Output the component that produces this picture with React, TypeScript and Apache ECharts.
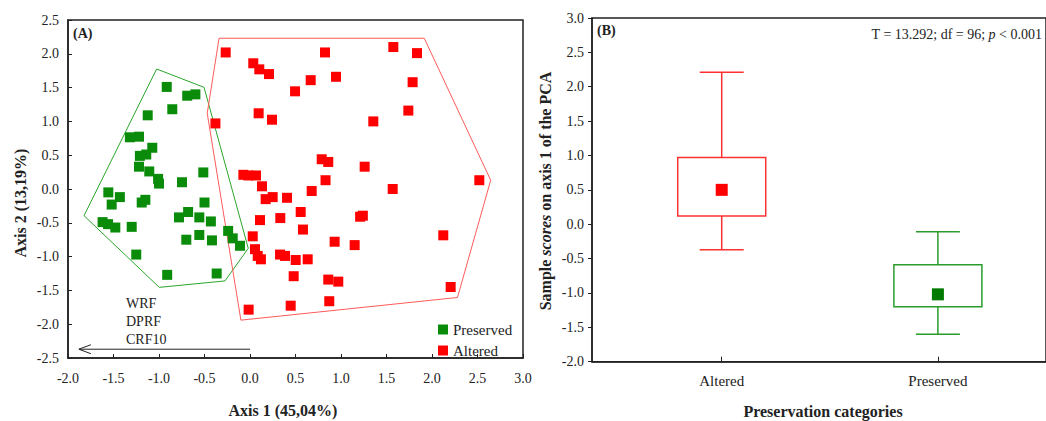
import React, { useEffect, useRef } from "react";
import * as echarts from "echarts";

// ---------- Panel A data (PCA scores) ----------
const preservedPoints: [number, number][] = [
  [-0.915, 1.51], [-0.69, 1.38], [-0.6, 1.4], [-0.854, 1.18], [-1.124, 1.09],
  [-1.32, 0.765], [-1.22, 0.774], [-1.074, 0.61], [-1.21, 0.49], [-1.14, 0.51],
  [-1.22, 0.33], [-1.107, 0.26], [-0.513, 0.245], [-1.01, 0.15], [-1.0, 0.08],
  [-0.747, 0.1], [-1.557, -0.05], [-1.43, -0.12], [-1.52, -0.23], [-1.19, -0.2],
  [-1.15, -0.16], [-0.5, -0.2], [-1.62, -0.49], [-1.56, -0.52], [-1.48, -0.57],
  [-1.3, -0.56], [-0.78, -0.42], [-0.68, -0.34], [-0.557, -0.42], [-0.43, -0.48],
  [-0.557, -0.68], [-0.7, -0.75], [-0.418, -0.76], [-0.24, -0.62], [-0.19, -0.73],
  [-0.11, -0.84], [-1.25, -0.97], [-0.91, -1.27], [-0.366, -1.25],
];

const alteredPoints: [number, number][] = [
  [-0.267, 2.02], [0.036, 1.86], [0.102, 1.77], [0.209, 1.7], [0.824, 2.02],
  [1.575, 2.1], [1.835, 2.01], [0.667, 1.61], [0.945, 1.66], [0.495, 1.445],
  [1.787, 1.58], [0.095, 1.12], [0.242, 1.025], [1.74, 1.16], [1.355, 1.0],
  [-0.38, 0.97], [0.788, 0.44], [0.86, 0.4], [1.26, 0.33], [-0.073, 0.21],
  [-0.018, 0.2], [0.066, 0.2], [0.132, 0.04], [0.83, 0.13], [1.568, 0.0],
  [2.52, 0.13], [0.678, -0.03], [0.172, -0.15], [0.249, -0.12], [0.407, -0.13],
  [0.557, -0.34], [0.11, -0.46], [0.333, -0.43], [1.21, -0.41], [1.24, -0.395],
  [0.582, -0.6], [0.03, -0.7], [0.93, -0.78], [1.15, -0.83], [2.124, -0.685],
  [0.055, -0.89], [0.085, -0.99], [0.12, -1.04], [0.33, -0.97], [0.385, -0.99],
  [0.502, -1.05], [0.634, -1.04], [0.48, -1.29], [0.86, -1.34], [0.97, -1.37],
  [2.205, -1.45], [-0.015, -1.785], [0.447, -1.726], [0.871, -1.66],
];

const preservedHull: [number, number][] = [
  [-1.026, 1.775], [-0.505, 1.504], [-0.019, -0.877], [-0.275, -1.36],
  [-0.997, -1.455], [-1.824, -0.395], [-1.026, 1.775],
];

const alteredHull: [number, number][] = [
  [-0.34, 2.23], [1.915, 2.23], [2.645, 0.13], [2.28, -1.605],
  [-0.1, -1.94], [-0.47, 1.12], [-0.34, 2.23],
];

// loading arrow (variables pointing to negative axis 1)
const arrowFrom: [number, number] = [0, -2.37];
const arrowTo: [number, number] = [-1.88, -2.37];
const arrowVariables = ["WRF", "DPRF", "CRF10"];

// ---------- Panel B data (mean, box, whiskers) ----------
const categories = ["Altered", "Preserved"];
const categoryPos = [1, 2];
const whiskerLow = [-0.37, -1.6];
const boxLow = [0.12, -1.2];
const means = [0.5, -1.02];
const boxHigh = [0.97, -0.59];
const whiskerHigh = [2.21, -0.11];

const FONT = "'Liberation Serif', 'Times New Roman', serif";
const INK = "#222";
const GREEN = "#0a8c0a";
const RED = "#ff0000";
const boxLineColors = ["#ff3030", "#2b9b2b"];
const meanColors = ["#ff0000", "#007a00"];

export default function App() {
  const ref = useRef<HTMLDivElement>(null);

  useEffect(() => {
    if (!ref.current) return;
    const chart = echarts.init(ref.current, undefined, { renderer: "svg" });

    const boxData = categories.map((_, i) => [
      categoryPos[i], whiskerLow[i], boxLow[i], means[i], boxHigh[i], whiskerHigh[i],
    ]);
    const meanData = categories.map((_, i) => ({
      value: [categoryPos[i], means[i]],
      itemStyle: { color: meanColors[i], opacity: 1 },
    }));

    const axisLabelStyle = { color: INK, fontFamily: FONT, fontSize: 14 };
    const axisLineStyle = { show: true, onZero: false, lineStyle: { color: INK, width: 1.5 } };

    const option: any = {
      animation: false,
      backgroundColor: "#fff",
      textStyle: { fontFamily: FONT },
      grid: [
        {
          left: 68, top: 20, width: 455, height: 338,
          show: true, borderColor: INK, borderWidth: 1.5, backgroundColor: "transparent",
        },
        {
          left: 592, top: 18, right: -5.3, bottom: 59.3,
          show: true, borderColor: INK, borderWidth: 1.5, backgroundColor: "transparent",
        },
      ],
      xAxis: [
        {
          gridIndex: 0, type: "value", min: -2, max: 3, interval: 0.5,
          axisLine: axisLineStyle,
          axisTick: { show: true, inside: true, length: 4, lineStyle: { color: INK } },
          splitLine: { show: false },
          axisLabel: { ...axisLabelStyle, margin: 13, formatter: (v: number) => v.toFixed(1) },
        },
        {
          gridIndex: 1, type: "value", min: 0.4, max: 2.5,
          axisLine: axisLineStyle,
          axisTick: { show: true, inside: true, length: 5, customValues: categoryPos, lineStyle: { color: INK } },
          splitLine: { show: false },
          axisLabel: {
            ...axisLabelStyle, fontSize: 15, margin: 12, customValues: categoryPos,
            formatter: (v: number) => categories[categoryPos.indexOf(v)] ?? "",
          },
        },
      ],
      yAxis: [
        {
          gridIndex: 0, type: "value", min: -2.5, max: 2.5, interval: 0.5,
          axisLine: axisLineStyle,
          axisTick: { show: true, inside: true, length: 4, lineStyle: { color: INK } },
          splitLine: { show: false },
          axisLabel: { ...axisLabelStyle, margin: 9, formatter: (v: number) => v.toFixed(1) },
        },
        {
          gridIndex: 1, type: "value", min: -2, max: 3, interval: 0.5,
          axisLine: axisLineStyle,
          axisTick: { show: true, inside: false, length: 4, lineStyle: { color: INK } },
          splitLine: { show: false },
          axisLabel: { ...axisLabelStyle, margin: 8, formatter: (v: number) => v.toFixed(1) },
        },
      ],
      legend: {
        data: [
          { name: "Preserved", icon: "rect" },
          { name: "Altered", icon: "rect" },
        ],
        orient: "vertical",
        left: 433, top: 317,
        itemWidth: 10, itemHeight: 10, itemGap: 6,
        selectedMode: false,
        textStyle: { color: INK, fontFamily: FONT, fontSize: 15, lineHeight: 15 },
      },
      series: [
        {
          type: "line", name: "Preserved hull", xAxisIndex: 0, yAxisIndex: 0,
          data: preservedHull, symbol: "none", silent: true, z: 1,
          lineStyle: { color: "#2aa52a", width: 1 },
        },
        {
          type: "line", name: "Altered hull", xAxisIndex: 0, yAxisIndex: 0,
          data: alteredHull, symbol: "none", silent: true, z: 1,
          lineStyle: { color: "#ff5a5a", width: 1 },
        },
        {
          type: "scatter", name: "Preserved", xAxisIndex: 0, yAxisIndex: 0,
          data: preservedPoints, symbol: "rect", symbolSize: 10, z: 3,
          itemStyle: { color: GREEN, opacity: 1 },
        },
        {
          type: "scatter", name: "Altered", xAxisIndex: 0, yAxisIndex: 0,
          data: alteredPoints, symbol: "rect", symbolSize: 10, z: 3,
          itemStyle: { color: RED, opacity: 1 },
        },
        {
          type: "custom", name: "loadings", xAxisIndex: 0, yAxisIndex: 0,
          data: [[arrowFrom[0], arrowFrom[1], arrowTo[0], arrowTo[1]]],
          encode: { x: [0, 2], y: [1, 3] },
          silent: true, z: 2,
          renderItem: (_params: any, api: any) => {
            const p1 = api.coord([api.value(0), api.value(1)]);
            const p2 = api.coord([api.value(2), api.value(3)]);
            const st = { stroke: INK, lineWidth: 1, fill: "none" };
            return {
              type: "group",
              children: [
                { type: "line", shape: { x1: p1[0], y1: p1[1], x2: p2[0], y2: p2[1] }, style: st },
                {
                  type: "polyline",
                  shape: { points: [[p2[0] + 12, p2[1] - 4.5], [p2[0], p2[1]], [p2[0] + 12, p2[1] + 4.5]] },
                  style: st,
                },
              ],
            };
          },
        },
        {
          type: "custom", name: "boxes", xAxisIndex: 1, yAxisIndex: 1,
          data: boxData,
          encode: { x: 0, y: [1, 2, 4, 5] },
          silent: true, z: 2,
          renderItem: (params: any, api: any) => {
            const x = api.value(0);
            const pLow = api.coord([x, api.value(1)]);
            const pBL = api.coord([x, api.value(2)]);
            const pBH = api.coord([x, api.value(4)]);
            const pHigh = api.coord([x, api.value(5)]);
            const cx = pLow[0];
            const halfBox = 44;
            const halfCap = 22;
            const st = { stroke: boxLineColors[params.dataIndex], lineWidth: 1.5, fill: "none" };
            return {
              type: "group",
              children: [
                { type: "rect", shape: { x: cx - halfBox, y: pBH[1], width: halfBox * 2, height: pBL[1] - pBH[1] }, style: st },
                { type: "line", shape: { x1: cx, y1: pBH[1], x2: cx, y2: pHigh[1] }, style: st },
                { type: "line", shape: { x1: cx - halfCap, y1: pHigh[1], x2: cx + halfCap, y2: pHigh[1] }, style: st },
                { type: "line", shape: { x1: cx, y1: pBL[1], x2: cx, y2: pLow[1] }, style: st },
                { type: "line", shape: { x1: cx - halfCap, y1: pLow[1], x2: cx + halfCap, y2: pLow[1] }, style: st },
              ],
            };
          },
        },
        {
          type: "scatter", name: "Mean", xAxisIndex: 1, yAxisIndex: 1,
          data: meanData, symbol: "rect", symbolSize: 12, z: 3,
          itemStyle: { opacity: 1 },
        },
      ],
      graphic: [
        {
          type: "text", x: 73, y: 33,
          style: { text: "(A)", font: `bold 14px ${FONT}`, fill: INK, verticalAlign: "middle" },
        },
        {
          type: "text", x: 597, y: 30,
          style: { text: "(B)", font: `bold 14px ${FONT}`, fill: INK, verticalAlign: "middle" },
        },
        ...arrowVariables.map((t, i) => ({
          type: "text", x: 126, y: 303 + i * 18,
          style: { text: t, font: `14px ${FONT}`, fill: INK, verticalAlign: "middle" },
        })),
        {
          type: "text", x: 283, y: 410,
          style: { text: "Axis 1 (45,04%)", font: `bold 16px ${FONT}`, fill: INK, align: "center", verticalAlign: "middle" },
        },
        {
          type: "text", x: 20, y: 203, rotation: Math.PI / 2,
          style: { text: "Axis 2 (13,19%)", font: `bold 16px ${FONT}`, fill: INK, align: "center", verticalAlign: "middle" },
        },
        {
          type: "text", x: 1042, y: 34,
          style: {
            text: "T = 13.292; df = 96; {i|p} < 0.001",
            font: `14px ${FONT}`, fill: INK, align: "right", verticalAlign: "middle",
            rich: { i: { fontStyle: "italic", fontSize: 14, fontFamily: FONT, fill: INK } },
          },
        },
        {
          type: "text", x: 823, y: 411,
          style: { text: "Preservation categories", font: `bold 16px ${FONT}`, fill: INK, align: "center", verticalAlign: "middle" },
        },
        {
          type: "text", x: 545, y: 191, rotation: Math.PI / 2,
          style: {
            text: "Sample {i|scores} on axis 1 of the PCA",
            font: `bold 16px ${FONT}`, fill: INK, align: "center", verticalAlign: "middle",
            rich: { i: { fontStyle: "italic", fontWeight: "bold", fontSize: 16, fontFamily: FONT, fill: INK } },
          },
        },
      ],
    };

    chart.setOption(option);
    return () => chart.dispose();
  }, []);

  return (
    <div
      ref={ref}
      style={{ position: "fixed", left: 0, top: 0, width: 1046, height: 421, background: "#fff" }}
    />
  );
}
